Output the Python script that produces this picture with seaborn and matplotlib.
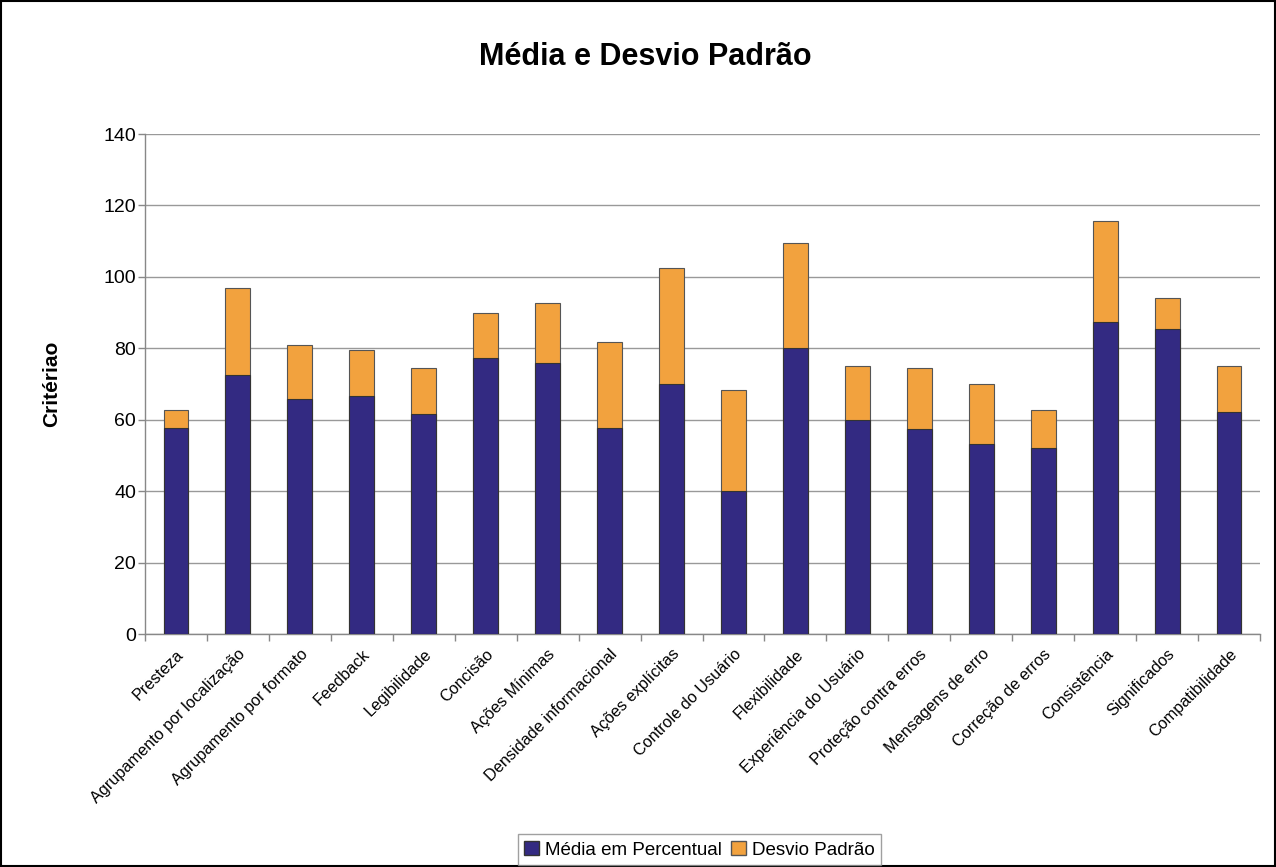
import matplotlib
matplotlib.use("Agg")
import matplotlib.pyplot as plt
import seaborn as sns
import pandas as pd
import numpy as np
from matplotlib.patches import Patch, Rectangle

categorias = ["Presteza", "Agrupamento por localização", "Agrupamento por formato",
              "Feedback", "Legibilidade", "Concisão", "Ações Mínimas",
              "Densidade informacional", "Ações explícitas", "Controle do Usuário",
              "Flexibilidade", "Experiência do Usuário", "Proteção contra erros",
              "Mensagens de erro", "Correção de erros", "Consistência",
              "Significados", "Compatibilidade"]
media = [57.8, 72.5, 65.9, 66.6, 61.6, 77.2, 76.0, 57.8, 70.0, 40.1,
         80.1, 60.0, 57.5, 53.1, 52.0, 87.3, 85.3, 62.1]
desvio = [4.8, 24.5, 15.1, 13.0, 13.0, 12.6, 16.7, 23.9, 32.6, 28.1,
          29.5, 15.0, 17.0, 16.9, 10.8, 28.3, 8.7, 12.9]
yticks = [0, 20, 40, 60, 80, 100, 120, 140]

sns.set_theme(style="white")
plt.rcParams['font.family'] = ['Liberation Sans', 'DejaVu Sans']
plt.rcParams['text.color'] = 'black'
plt.rcParams['axes.labelcolor'] = 'black'
plt.rcParams['xtick.color'] = 'black'
plt.rcParams['ytick.color'] = 'black'

df = pd.DataFrame({"Critério": categorias, "Média": media, "Desvio": desvio})
df["Total"] = df["Média"] + df["Desvio"]

navy = "#332A82"
orange = "#F2A23E"

fig = plt.figure(figsize=(12.76, 8.67), dpi=100)
ax = fig.add_axes([0.1136, 0.2687, 0.8739, 0.5767])

sns.barplot(data=df, x="Critério", y="Total", color=orange, width=0.4,
            edgecolor="#555555", linewidth=0.8, saturation=1, ax=ax, zorder=2)
sns.barplot(data=df, x="Critério", y="Média", color=navy, width=0.4,
            edgecolor="#333333", linewidth=0.8, saturation=1, ax=ax, zorder=3)

ax.set_ylim(0, 140)
ax.set_xlim(-0.5, len(categorias) - 0.5)
ax.set_yticks(yticks)
ax.set_yticklabels([str(v) for v in yticks], fontsize=14)
ax.yaxis.grid(True, color="#999999", linewidth=1.0, zorder=0)
ax.set_axisbelow(True)
ax.tick_params(axis="y", which="major", length=5, width=1, color="#888888",
               labelcolor="black", direction="out", left=True, pad=1.5)

ax.set_xticks(range(len(categorias)))
ax.set_xticklabels(categorias, rotation=45, ha="right", rotation_mode="anchor", fontsize=11.7)
ax.tick_params(axis="x", which="major", length=0, pad=9, labelcolor="black")
ax.set_xticks(np.arange(-0.5, len(categorias) + 0.5, 1), minor=True)
ax.tick_params(axis="x", which="minor", length=5, width=1, color="#888888", direction="out", bottom=True)

for s in ["top", "right"]:
    ax.spines[s].set_visible(False)
for s in ["left", "bottom"]:
    ax.spines[s].set_color("#888888")
    ax.spines[s].set_linewidth(1.0)

ax.set_xlabel("")
ax.set_ylabel("Critériao", fontsize=15, fontweight="bold", labelpad=30, color="black")

fig.text(0.506, 0.934, "Média e Desvio Padrão", ha="center", va="center",
         fontsize=22, fontweight="bold", color="black")

handles = [Patch(facecolor=navy, edgecolor="#333333", label="Média em Percentual"),
           Patch(facecolor=orange, edgecolor="#555555", label="Desvio Padrão")]
leg = fig.legend(handles=handles, loc="center", bbox_to_anchor=(0.548, 0.02), ncol=2,
                 fontsize=13.5, frameon=True, fancybox=False, handlelength=0.8,
                 handleheight=0.8, handletextpad=0.3, columnspacing=0.5,
                 borderpad=0.35)
leg.get_frame().set_edgecolor("#888888")
leg.get_frame().set_linewidth(1.0)
for t in leg.get_texts():
    t.set_color("black")

fig.patches.append(Rectangle((0.001, 0.001), 0.998, 0.998, transform=fig.transFigure,
                             fill=False, edgecolor="black", linewidth=1.5))

fig.savefig("out.png", dpi=100)
